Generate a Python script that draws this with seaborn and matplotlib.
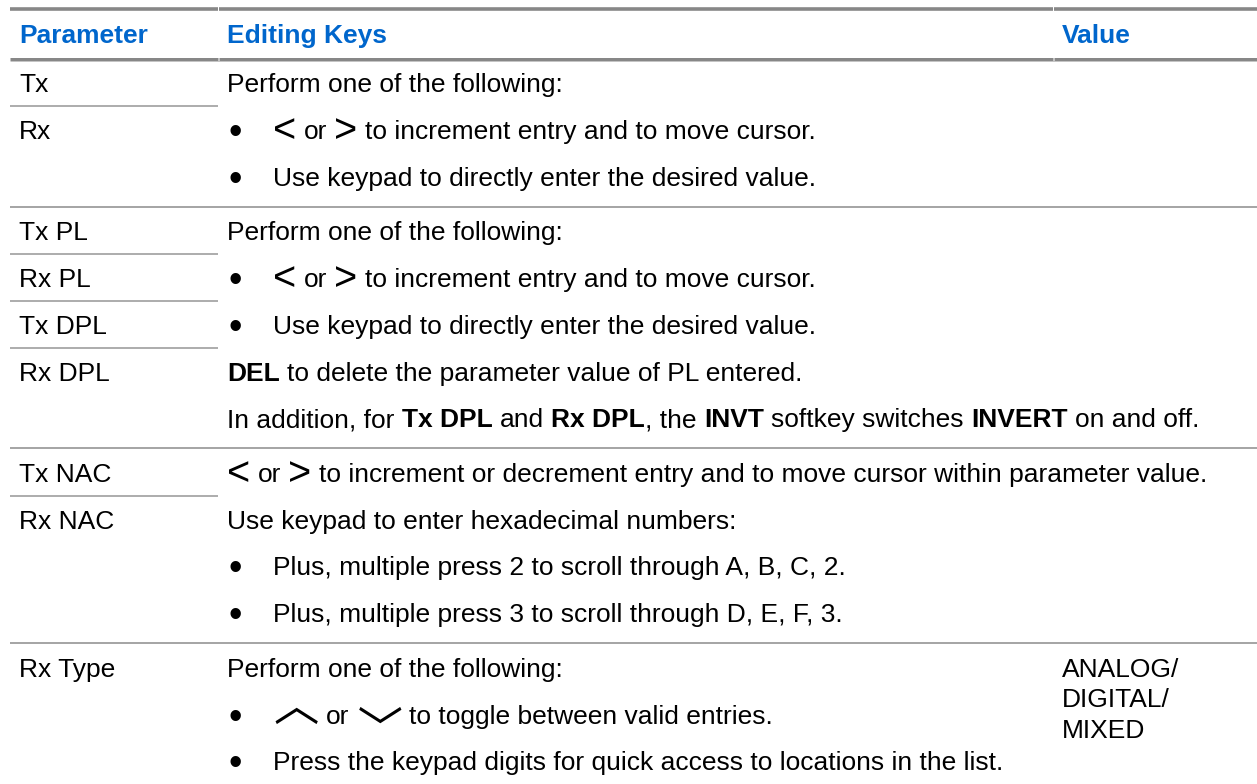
import matplotlib
matplotlib.use("Agg")
import matplotlib.pyplot as plt
import seaborn as sns

sns.set_theme(style="white")
plt.rcParams['font.family'] = ['Liberation Sans', 'DejaVu Sans']

# ---------------- data ----------------
headers = ["Parameter", "Editing Keys", "Value"]

param_groups = [
    ["Tx", "Rx"],
    ["Tx PL", "Rx PL", "Tx DPL", "Rx DPL"],
    ["Tx NAC", "Rx NAC"],
    ["Rx Type"],
]

# each line: (kind, [(text, style), ...]); style: r=regular, b=bold, lt/gt/up/dn=key glyphs
edit_groups = [
    [
        ("text", [("Perform one of the following:", "r")]),
        ("bullet", [("<", "lt"), (" or ", "r"), (">", "gt"),
                    (" to increment entry and to move cursor.", "r")]),
        ("bullet", [("Use keypad to directly enter the desired value.", "r")]),
    ],
    [
        ("text", [("Perform one of the following:", "r")]),
        ("bullet", [("<", "lt"), (" or ", "r"), (">", "gt"),
                    (" to increment entry and to move cursor.", "r")]),
        ("bullet", [("Use keypad to directly enter the desired value.", "r")]),
        ("text", [("DEL", "b"), (" to delete the parameter value of PL entered.", "r")]),
        ("text", [("In addition, for ", "r"), ("Tx DPL", "b"), (" and ", "r"),
                  ("Rx DPL", "b"), (", the ", "r"), ("INVT", "b"),
                  (" softkey switches ", "r"), ("INVERT", "b"), (" on and off.", "r")]),
    ],
    [
        ("text", [("<", "lt"), (" or ", "r"), (">", "gt"),
                  (" to increment or decrement entry and to move cursor within parameter value.", "r")]),
        ("text", [("Use keypad to enter hexadecimal numbers:", "r")]),
        ("bullet", [("Plus, multiple press 2 to scroll through A, B, C, 2.", "r")]),
        ("bullet", [("Plus, multiple press 3 to scroll through D, E, F, 3.", "r")]),
    ],
    [
        ("text", [("Perform one of the following:", "r")]),
        ("bullet", [("\ufe3f", "up"), (" or ", "r"), ("\ufe3f", "dn"),
                    (" to toggle between valid entries.", "r")]),
        ("bullet", [("Press the keypad digits for quick access to locations in the list.", "r")]),
    ],
]

value_groups = [[], [], [], ["ANALOG/", "DIGITAL/", "MIXED"]]

# ---------------- layout ----------------
W, H, DPI = 1257, 784, 100
FS = 19
BLUE = "#0066CC"
TXT = "#000000"
X_LEFT, X_COL1, X_COL2 = 10, 218, 1053
X_PARAM, X_EDIT, X_BUL, X_BTXT, X_VAL = 19, 227, 235, 273, 1062
PITCH, FIRST, GAP = 46.8, 24.0, 30.5
CAPH = 9.5  # half cap height in px

fig = plt.figure(figsize=(W / DPI, H / DPI), dpi=DPI)
fig.patch.set_facecolor("white")
ax = fig.add_axes([0, 0, 1, 1])
ax.set_xlim(0, W)
ax.set_ylim(H, 0)
ax.axis("off")
renderer = fig.canvas.get_renderer()

styles = {
    "r": dict(fontsize=FS, color=TXT, family=["Liberation Sans", "DejaVu Sans"]),
    "b": dict(fontsize=FS, color=TXT, fontweight="bold", family=["Liberation Sans", "DejaVu Sans"]),
    "lt": dict(fontsize=FS * 1.5, color=TXT, family=["Liberation Sans"]),
    "gt": dict(fontsize=FS * 1.5, color=TXT, family=["Liberation Sans"]),
    "up": dict(fontsize=FS * 1.72, color=TXT, family=["Noto Sans CJK JP"]),
    "dn": dict(fontsize=FS * 1.72, color=TXT, family=["Noto Sans CJK JP"]),
}
y_shift = {"r": 0, "b": 0, "lt": 3.5, "gt": 3.5, "up": -2.5, "dn": 0}


def ink_width(s, st):
    t = ax.text(0, 0, s, **styles[st])
    w = t.get_window_extent(renderer).width
    t.remove()
    return w


def advance(s, st):
    return ink_width(s + "x", st) - ink_width("x", st)


space_w = ink_width("x x", "r") - ink_width("xx", "r")


def draw_segments(x, base, segs):
    for txt, st in segs:
        lead = len(txt) - len(txt.lstrip(" "))
        trail = len(txt) - len(txt.rstrip(" "))
        core = txt.strip(" ")
        x += lead * space_w
        if core:
            adv = advance(core, st)
            if st == "dn":
                # the up-chevron glyph turned upside down
                ax.text(x + adv / 2 - 1, base - 2.5, core, va="center", ha="center",
                        rotation=180, **styles[st])
            else:
                ax.text(x, base + y_shift[st], core, va="baseline", ha="left", **styles[st])
            x += adv
        x += trail * space_w


# rules
def rule(y, x0, x1, lw, color):
    ax.hlines(y, x0, x1, colors=color, linewidth=lw * 72 / DPI, capstyle="butt")


for y0, lw in [(9, 3.6), (58.6, 3.0)]:
    for a, b in [(X_LEFT, X_COL1 - 0.5), (X_COL1 + 0.5, X_COL2 - 0.5), (X_COL2 + 0.5, W)]:
        rule(y0, a, b, lw, "#878787")
rule(60.6, X_LEFT, W, 1.0, "#c4c4c4")

# header
hb = 33 + CAPH
for txt, x in zip(headers, [X_PARAM, X_EDIT, X_VAL]):
    ax.text(x, hb, txt, va="baseline", ha="left", fontsize=FS, fontweight="bold", color=BLUE)

# body
sep = 58.6
for gi, (params, lines, vals) in enumerate(zip(param_groups, edit_groups, value_groups)):
    first = sep + FIRST
    n = max(len(params), len(lines))
    centers = [first + i * PITCH for i in range(n)]
    for i, p in enumerate(params):
        ax.text(X_PARAM, centers[i] + CAPH, p, va="baseline", ha="left", fontsize=FS, color=TXT)
        if i < len(params) - 1:
            rule((centers[i] + centers[i + 1]) / 2, X_LEFT, X_COL1, 1.6, "#9a9a9a")
    for i, (kind, segs) in enumerate(lines):
        base = centers[i] + CAPH
        if kind == "bullet":
            ax.text(X_BUL, base + 5.0, "\u2022", va="baseline", ha="center",
                    fontsize=FS * 1.45, color=TXT)
            draw_segments(X_BTXT, base, segs)
        else:
            draw_segments(X_EDIT, base, segs)
    for i, v in enumerate(vals):
        ax.text(X_VAL, centers[0] + CAPH + i * 30.5, v, va="baseline", ha="left",
                fontsize=FS, color=TXT)
    sep = centers[-1] + GAP
    if gi < len(param_groups) - 1:
        rule(sep, X_LEFT, W, 1.8, "#9c9c9c")

fig.savefig("out.png", dpi=DPI, facecolor="white")
